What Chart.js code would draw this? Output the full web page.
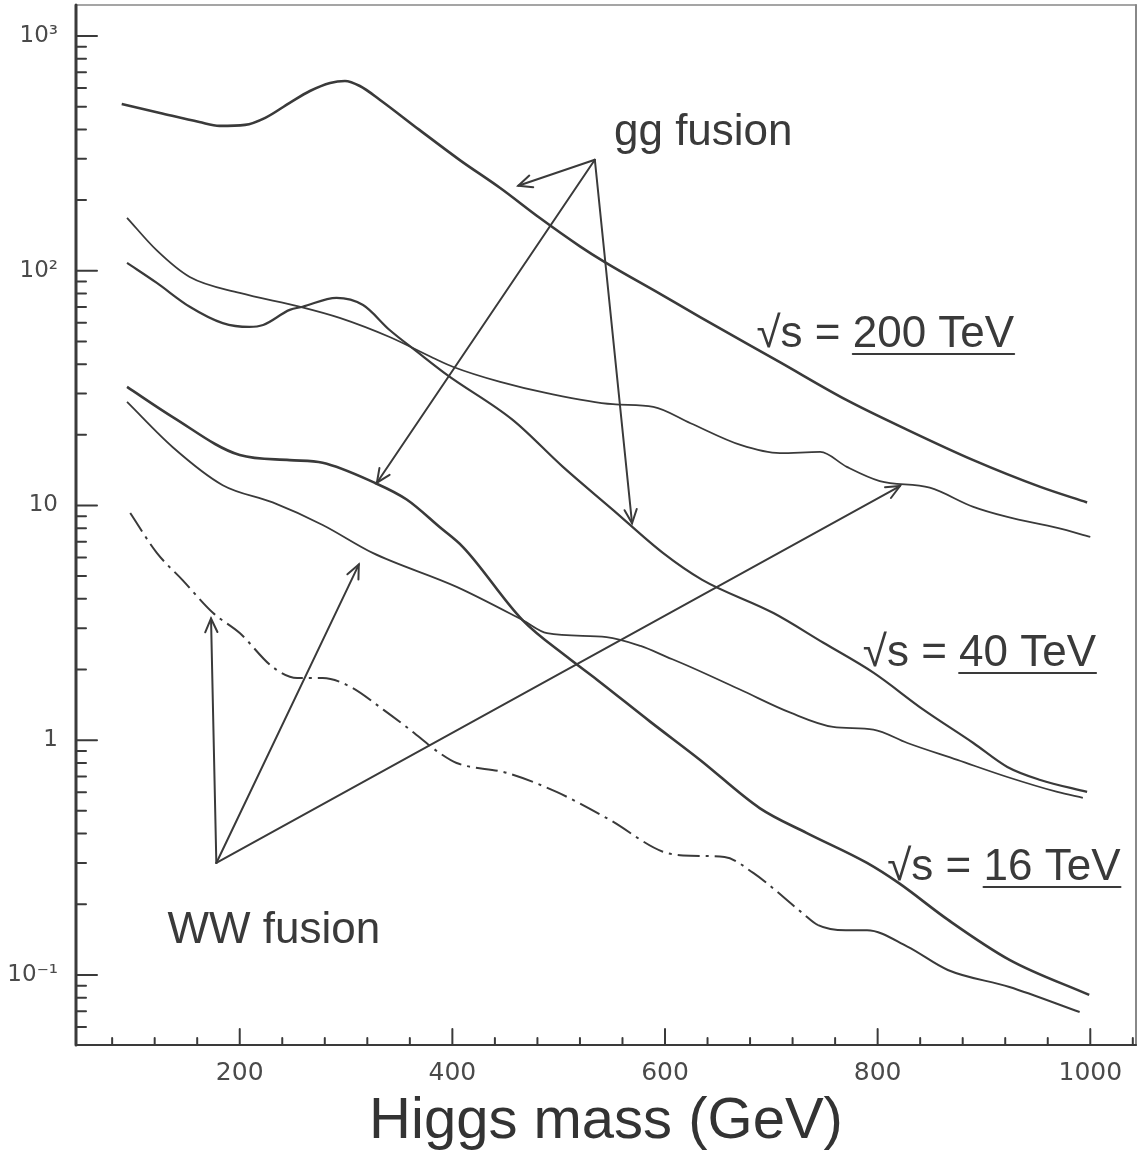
<!DOCTYPE html>
<html>
<head>
<meta charset="utf-8">
<title>Higgs production cross sections</title>
<script src="https://cdn.jsdelivr.net/npm/chart.js@4.4.1/dist/chart.umd.min.js"></script>
<style>
  html, body { margin: 0; padding: 0; background: #fff; }
  #wrap { width: 1139px; height: 1157px; }
</style>
</head>
<body>
<div id="wrap"><canvas id="higgs-chart"></canvas></div>
<script>
// cross sections, x = Higgs mass (GeV)
// sqrt(s) = 200 TeV
const massGG200 = [89, 125, 162, 181, 205, 224, 247, 266, 285, 299, 313, 332, 369, 407, 445, 482, 520, 543, 595, 633, 708, 771, 828, 890, 953, 997];
const xsecGG200 = [513, 470, 430, 414, 418, 448, 519, 583, 631, 643, 612, 534, 398, 296, 225, 168, 127, 109, 79.8, 63.5, 40.8, 28.1, 21.0, 15.6, 12.0, 10.3];
const massWW200 = [94, 122, 153, 200, 257, 294, 341, 382, 401, 445, 489, 551, 589, 624, 671, 708, 746, 771, 802, 849, 890, 922, 969, 1000];
const xsecWW200 = [168, 122, 94.0, 80.4, 70.2, 63.0, 52.2, 42.5, 38.9, 33.6, 30.1, 27.0, 26.3, 22.4, 18.1, 16.7, 16.9, 14.6, 12.7, 11.9, 9.86, 8.93, 8.02, 7.35];
// sqrt(s) = 40 TeV
const massGG40 = [94, 122, 153, 184, 209, 222, 247, 259, 291, 316, 341, 367, 395, 457, 504, 551, 598, 635, 702, 749, 796, 843, 890, 922, 953, 997];
const xsecGG40 = [108, 88.7, 70.2, 59.8, 57.6, 58.7, 68.1, 70.2, 76.6, 71.4, 55.9, 45.1, 36.0, 23.1, 14.6, 9.58, 6.28, 4.82, 3.48, 2.60, 1.94, 1.35, 0.973, 0.769, 0.677, 0.602];
const massWW40 = [94, 137, 184, 231, 278, 325, 404, 466, 489, 545, 577, 602, 624, 671, 718, 758, 796, 828, 875, 922, 969, 993];
const xsecWW40 = [27.6, 17.7, 12.2, 10.3, 8.26, 6.28, 4.50, 3.25, 2.86, 2.75, 2.52, 2.26, 2.05, 1.64, 1.31, 1.14, 1.11, 0.973, 0.824, 0.697, 0.602, 0.568];
// sqrt(s) = 16 TeV
const massGG16 = [94, 137, 200, 247, 278, 325, 357, 388, 410, 466, 508, 536, 586, 633, 689, 733, 790, 820, 866, 924, 999];
const xsecGG16 = [32.0, 23.8, 16.4, 15.6, 15.2, 12.6, 10.6, 8.09, 6.65, 3.25, 2.26, 1.81, 1.20, 0.824, 0.514, 0.403, 0.300, 0.246, 0.172, 0.116, 0.0822];
const massWW16 = [97, 122, 146, 175, 200, 231, 254, 278, 304, 335, 360, 388, 404, 451, 498, 548, 598, 624, 656, 683, 729, 744, 770, 790, 828, 866, 924, 990];
const xsecWW16 = [9.29, 6.28, 4.82, 3.48, 2.86, 2.05, 1.84, 1.84, 1.69, 1.35, 1.11, 0.882, 0.800, 0.726, 0.602, 0.458, 0.335, 0.322, 0.318, 0.272, 0.184, 0.163, 0.155, 0.155, 0.132, 0.105, 0.0889, 0.0695];

const xTickValues = [200, 400, 600, 800, 1000];
const yTickValues = [0.1, 1, 10, 100, 1000];
const yTickLabels = ['10⁻¹', '1', '10', '10²', '10³'];

// annotations, in (mass, cross section) units
const ggArrowFrom = [534, 297];
const ggArrowTips = [[462, 230], [329, 12.5], [569, 8.4]];
const wwArrowFrom = [178, 0.30];
const wwArrowTips = [[173, 3.3], [312, 5.6], [821, 12.1]];
const processNotes = [['gg fusion', 552, 344], ['WW fusion', 132, 0.137]];
const energyNotes = [['200 TeV', 686, 47.3], ['40 TeV', 786, 2.07], ['16 TeV', 809, 0.254]];
const dashEndMass = 744;

const ink = '#3a3a3a';

const pts = (xs, ys) => xs.map((m, i) => ({ x: m, y: ys[i] }));

function curve(label, xs, ys, width) {
  return {
    label: label,
    data: pts(xs, ys),
    borderColor: ink,
    borderWidth: width,
    pointRadius: 0,
    fill: false,
    cubicInterpolationMode: 'monotone',
    borderDash: []
  };
}

const ww16 = curve('WW fusion, 16 TeV', massWW16, xsecWW16, 2);
ww16.segment = {
  borderDash: c => (c.p1.parsed.x <= dashEndMass ? [22, 6, 3, 6] : undefined)
};

function seg(ctx, x0, y0, x1, y1, w) {
  ctx.lineWidth = w;
  ctx.beginPath();
  ctx.moveTo(x0, y0);
  ctx.lineTo(x1, y1);
  ctx.stroke();
}

function arrow(ctx, x0, y0, x1, y1) {
  seg(ctx, x0, y0, x1, y1, 2);
  const a = Math.atan2(y1 - y0, x1 - x0);
  const len = 15, spread = 0.42;
  ctx.beginPath();
  ctx.moveTo(x1 - len * Math.cos(a - spread), y1 - len * Math.sin(a - spread));
  ctx.lineTo(x1, y1);
  ctx.lineTo(x1 - len * Math.cos(a + spread), y1 - len * Math.sin(a + spread));
  ctx.stroke();
}

// no extra room for half-labels at the ends of the axes
function noEdgePadding(s) {
  s.paddingTop = 0;
  s.paddingBottom = 0;
  s.paddingLeft = 0;
  s.paddingRight = 0;
}

const decorations = {
  id: 'decorations',
  afterDraw(chart) {
    const { ctx, chartArea: area, scales: { x, y } } = chart;
    ctx.save();
    ctx.lineCap = 'round';
    ctx.strokeStyle = '#888';
    seg(ctx, area.left, area.top, area.right, area.top, 1.5);
    seg(ctx, area.right, area.top, area.right, area.bottom, 2);
    ctx.strokeStyle = ink;
    seg(ctx, area.left, area.top, area.left, area.bottom, 3);
    seg(ctx, area.left, area.bottom, area.right, area.bottom, 2);

    // log ticks, pointing into the plot
    for (let e = -2; e <= 3; e++) {
      for (let k = 1; k <= 9; k++) {
        const v = k * Math.pow(10, e);
        if (v < y.min || v > y.max) continue;
        const py = y.getPixelForValue(v);
        seg(ctx, area.left, py, area.left + (k === 1 ? 21 : 10), py, 2);
      }
    }
    for (let m = 80; m <= x.max; m += 40) {
      const px = x.getPixelForValue(m);
      seg(ctx, px, area.bottom, px, area.bottom - (m % 200 === 0 ? 16 : 7), 2);
    }

    const at = p => [x.getPixelForValue(p[0]), y.getPixelForValue(p[1])];
    const [gx, gy] = at(ggArrowFrom);
    ggArrowTips.forEach(t => { const [tx, ty] = at(t); arrow(ctx, gx, gy, tx, ty); });
    const [wx, wy] = at(wwArrowFrom);
    wwArrowTips.forEach(t => { const [tx, ty] = at(t); arrow(ctx, wx, wy, tx, ty); });

    ctx.fillStyle = ink;
    ctx.font = '44px "Liberation Sans", Arial, sans-serif';
    ctx.textBaseline = 'alphabetic';
    processNotes.forEach(([txt, m, v]) => {
      const [px, py] = at([m, v]);
      ctx.fillText(txt, px, py);
    });
    energyNotes.forEach(([txt, m, v]) => {
      const [px, py] = at([m, v]);
      const prefix = '√s = ';
      ctx.fillText(prefix, px, py);
      const sx = px + ctx.measureText(prefix).width;
      ctx.fillText(txt, sx, py);
      seg(ctx, sx, py + 7, sx + ctx.measureText(txt).width, py + 7, 2);
    });
    ctx.restore();
  }
};

new Chart(document.getElementById('higgs-chart'), {
  type: 'line',
  data: {
    datasets: [
      curve('gg fusion, 200 TeV', massGG200, xsecGG200, 2.6),
      curve('WW fusion, 200 TeV', massWW200, xsecWW200, 1.8),
      curve('gg fusion, 40 TeV', massGG40, xsecGG40, 2.2),
      curve('WW fusion, 40 TeV', massWW40, xsecWW40, 1.8),
      curve('gg fusion, 16 TeV', massGG16, xsecGG16, 2.6),
      ww16
    ]
  },
  options: {
    responsive: true,
    maintainAspectRatio: false,
    animation: false,
    layout: { padding: { top: 5, right: 3, left: 0, bottom: 0 } },
    plugins: { legend: { display: false }, tooltip: { enabled: false } },
    scales: {
      x: {
        type: 'linear',
        min: 46,
        max: 1043,
        grid: { display: false, drawTicks: false },
        border: { display: false },
        afterBuildTicks: s => { s.ticks = xTickValues.map(v => ({ value: v })); },
        afterFit: s => { s.height = 112; noEdgePadding(s); },
        ticks: {
          autoSkip: false,
          maxRotation: 0,
          padding: 13,
          color: '#4a4a4a',
          font: { family: 'DejaVu Sans', size: 25 },
          callback: v => String(v)
        },
        title: {
          display: true,
          text: 'Higgs mass (GeV)',
          color: '#333',
          font: { family: 'Liberation Sans', size: 58 },
          padding: { top: 0, bottom: 0 }
        }
      },
      y: {
        type: 'logarithmic',
        min: 0.0503,
        max: 1355,
        grid: { display: false, drawTicks: false },
        border: { display: false },
        afterBuildTicks: s => { s.ticks = yTickValues.map(v => ({ value: v })); },
        afterFit: s => { s.width = 76; noEdgePadding(s); },
        ticks: {
          autoSkip: false,
          padding: 18,
          color: '#4a4a4a',
          font: { family: 'DejaVu Sans', size: 23 },
          callback: (v, i) => yTickLabels[i]
        }
      }
    }
  },
  plugins: [decorations]
});
</script>
</body>
</html>
